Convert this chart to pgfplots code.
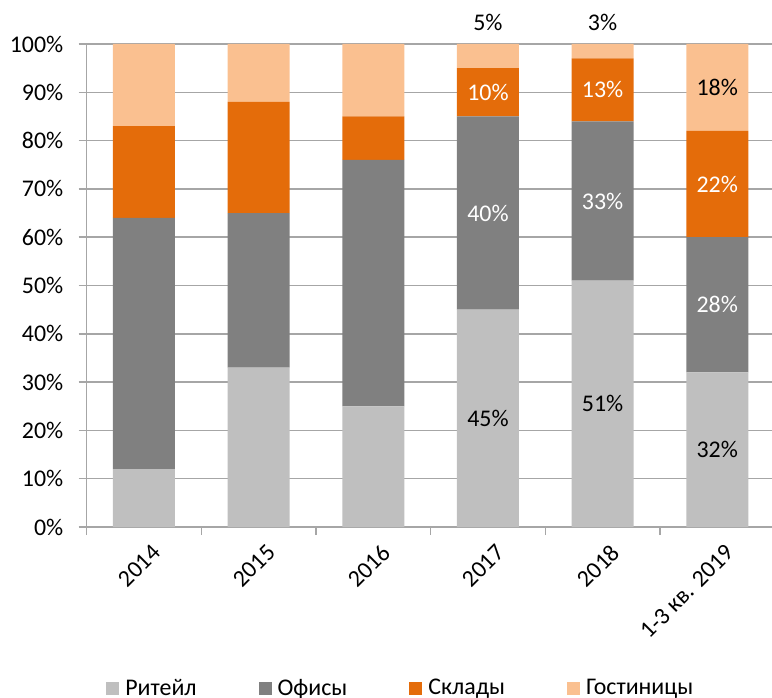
\documentclass[border=0pt]{standalone}
\usepackage{fontspec}
\setmainfont{Carlito}
\usepackage{pgfplots}
\pgfplotsset{compat=1.18}
\definecolor{cRet}{HTML}{BFBFBF}
\definecolor{cOff}{HTML}{808080}
\definecolor{cWar}{HTML}{E46C0A}
\definecolor{cHot}{HTML}{FAC090}
\definecolor{cGrid}{HTML}{A6A6A6}
\newcommand{\fs}{\fontsize{12}{14}\selectfont}
\pgfplotsset{
  geom/.style={at={(0,0)}, anchor=south west,
    scale only axis, width=344bp, height=241.5bp,
    xmin=-0.5, xmax=5.5, ymin=0, ymax=100},
  seglabel/.style={draw=none, mark=none, forget plot,
    point meta=explicit symbolic, nodes near coords,
    every node near coord/.append style={anchor=center, font=\fs, text=#1}},
}
\begin{document}
\fs
\begin{tikzpicture}
\begin{axis}[
  geom,
  ybar stacked, bar width=31bp,
  axis x line*=bottom, axis y line*=left,
  axis line style={cGrid, line width=0.7bp, -},
  ytick={0,10,...,100},
  yticklabel={\pgfmathprintnumber{\tick}\%},
  yticklabel style={xshift=-3.5bp},
  ymajorgrids, grid style={cGrid, line width=0.7bp},
  xtick={-0.5,0.5,...,5.5},
  xticklabels={},
  extra x ticks={0,1,2,3,4,5},
  extra x tick labels={2014,2015,2016,2017,2018,{1-3 кв. 2019}},
  extra x tick style={major tick length=0pt, grid=none,
    tick label style={rotate=45, anchor=north east, font=\fs, xshift=1bp, yshift=-4bp}},
  tick align=outside,
  tick style={cGrid, line width=0.7bp},
  major tick length=4bp,
  tick label style={font=\fs, text=black},
  /pgf/number format/assume math mode=true,
  legend style={at={(0.028,-0.335)}, anchor=west, draw=none, fill=none,
    inner sep=0pt, font=\fs, legend columns=4,
    nodes={inner sep=0pt, anchor=west},
    /tikz/every even column/.append style={column sep=31bp}},
  legend image code/.code={\fill[#1,draw=none] (0bp,-3.25bp) rectangle (6.5bp,3.25bp); \path (9.5bp,0bp);},
]
\addplot[fill=cRet, draw=none] coordinates
  {(0,12) (1,33) (2,25) (3,45) (4,51) (5,32)};
\addplot[fill=cOff, draw=none] coordinates
  {(0,52) (1,32) (2,51) (3,40) (4,33) (5,28)};
\addplot[fill=cWar, draw=none] coordinates
  {(0,19) (1,23) (2,9) (3,10) (4,13) (5,22)};
\addplot[fill=cHot, draw=none] coordinates
  {(0,17) (1,12) (2,15) (3,5) (4,3) (5,18)};
\legend{Ритейл,Офисы,Склады,Гостиницы}
\end{axis}
\begin{axis}[geom, hide axis, clip=false]
\addplot[seglabel=black] coordinates
  {(3,22.5)[45\%] (4,25.5)[51\%] (5,16)[32\%] (5,91)[18\%]};
\addplot[seglabel=white] coordinates
  {(3,65)[40\%] (4,67.5)[33\%] (5,46)[28\%] (3,90)[10\%] (4,90.5)[13\%] (5,71)[22\%]};
\addplot[seglabel=black, every node near coord/.append style={yshift=11bp}] coordinates
  {(3,100)[5\%] (4,100)[3\%]};
\end{axis}
\pgfresetboundingbox
\path[use as bounding box] (-43.3bp,-85.5bp) rectangle (342.7bp,263.5bp);
\end{tikzpicture}
\end{document}
